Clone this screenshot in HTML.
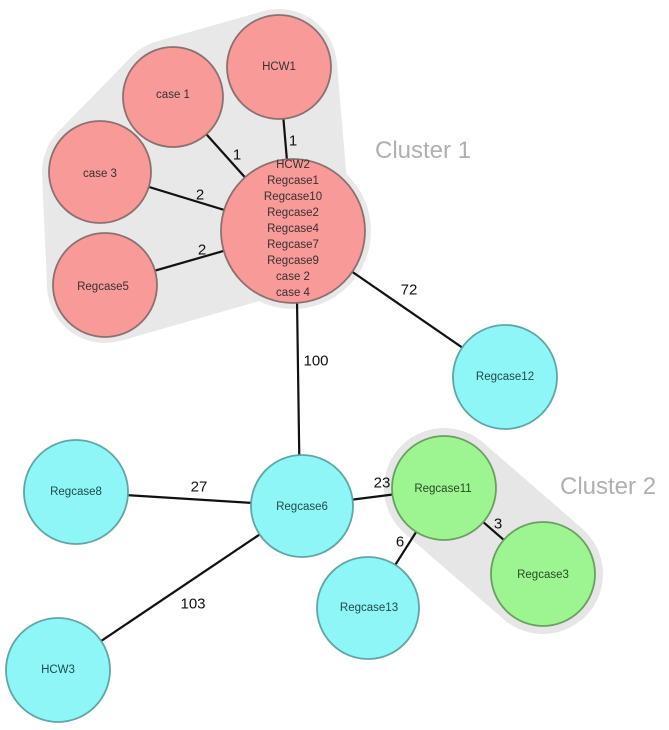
<!DOCTYPE html>
<html><head><meta charset="utf-8"><style>
html,body{margin:0;padding:0;background:#fff;}
svg{display:block;}
text{font-family:"Liberation Sans",Arial,sans-serif;}
.n{font-size:11.5px;fill:#3a3030;text-anchor:middle;dominant-baseline:central;}
.nc{font-size:11.5px;fill:#1f4a4a;text-anchor:middle;dominant-baseline:central;}
.ng{font-size:11.5px;fill:#274a22;text-anchor:middle;dominant-baseline:central;}
.e{font-size:15px;fill:#111;text-anchor:middle;dominant-baseline:central;}
.cl{font-size:24px;fill:#b0b0b0;}
</style></head><body>
<svg width="669" height="730" viewBox="0 0 669 730" xmlns="http://www.w3.org/2000/svg">
<!-- cluster hulls -->
<polygon points="279,67 293,231 105,285 100,172 173,97" fill="#e8e8e8" stroke="#e8e8e8" stroke-width="116" stroke-linejoin="round"/>
<circle cx="293" cy="231" r="78" fill="#e8e8e8"/>
<line x1="444" y1="488" x2="543" y2="574" stroke="#e6e6e6" stroke-width="120" stroke-linecap="round"/>
<!-- edges -->
<g stroke="#111" stroke-width="2.2">
<line x1="279" y1="67" x2="293" y2="231"/>
<line x1="173" y1="97" x2="293" y2="231"/>
<line x1="100" y1="172" x2="293" y2="231"/>
<line x1="105" y1="285" x2="293" y2="231"/>
<line x1="293" y1="231" x2="505" y2="377"/>
<line x1="296" y1="231" x2="300" y2="506"/>
<line x1="76" y1="492" x2="302" y2="506"/>
<line x1="58" y1="670" x2="302" y2="506"/>
<line x1="302" y1="506" x2="444" y2="488"/>
<line x1="444" y1="488" x2="368" y2="608"/>
<line x1="444" y1="488" x2="543" y2="574"/>
</g>
<!-- nodes -->
<g fill="#f79a98" stroke="#8c7070" stroke-width="1.8">
<circle cx="279" cy="67" r="52"/>
<circle cx="173" cy="97" r="50"/>
<circle cx="100" cy="172" r="51"/>
<circle cx="105" cy="285" r="52"/>
<circle cx="293" cy="231" r="72"/>
</g>
<g fill="#8ef6f6" stroke="#5fa6a6" stroke-width="1.8">
<circle cx="505" cy="377" r="52"/>
<circle cx="302" cy="506" r="51"/>
<circle cx="76" cy="492" r="52"/>
<circle cx="58" cy="670" r="52"/>
<circle cx="368" cy="608" r="51"/>
</g>
<g fill="#9cf590" stroke="#6a9f62" stroke-width="1.8">
<circle cx="444" cy="488" r="52"/>
<circle cx="543" cy="574" r="52"/>
</g>
<!-- node labels -->
<text class="n" x="279" y="67">HCW1</text>
<text class="n" x="173" y="95">case 1</text>
<text class="n" x="100" y="174">case 3</text>
<text class="n" x="103" y="287">Regcase5</text>
<g class="n">
<text class="n" x="293" y="165">HCW2</text>
<text class="n" x="293" y="181">Regcase1</text>
<text class="n" x="293" y="197">Regcase10</text>
<text class="n" x="293" y="213">Regcase2</text>
<text class="n" x="293" y="229">Regcase4</text>
<text class="n" x="293" y="245">Regcase7</text>
<text class="n" x="293" y="261">Regcase9</text>
<text class="n" x="293" y="277">case 2</text>
<text class="n" x="293" y="293">case 4</text>
</g>
<text class="nc" x="505" y="377">Regcase12</text>
<text class="nc" x="302" y="507">Regcase6</text>
<text class="nc" x="76" y="492">Regcase8</text>
<text class="nc" x="58" y="670">HCW3</text>
<text class="nc" x="369" y="608">Regcase13</text>
<text class="ng" x="443" y="489">Regcase11</text>
<text class="ng" x="543" y="575">Regcase3</text>
<!-- edge labels -->
<text class="e" x="293" y="141">1</text>
<text class="e" x="237" y="155">1</text>
<text class="e" x="200" y="195">2</text>
<text class="e" x="202" y="250">2</text>
<text class="e" x="409" y="290">72</text>
<text class="e" x="316" y="361">100</text>
<text class="e" x="199" y="487">27</text>
<text class="e" x="193" y="604">103</text>
<text class="e" x="382" y="483">23</text>
<text class="e" x="400" y="542">6</text>
<text class="e" x="498" y="524">3</text>
<!-- cluster labels -->
<text class="cl" x="375" y="158">Cluster 1</text>
<text class="cl" x="560" y="494">Cluster 2</text>
</svg>
</body></html>
